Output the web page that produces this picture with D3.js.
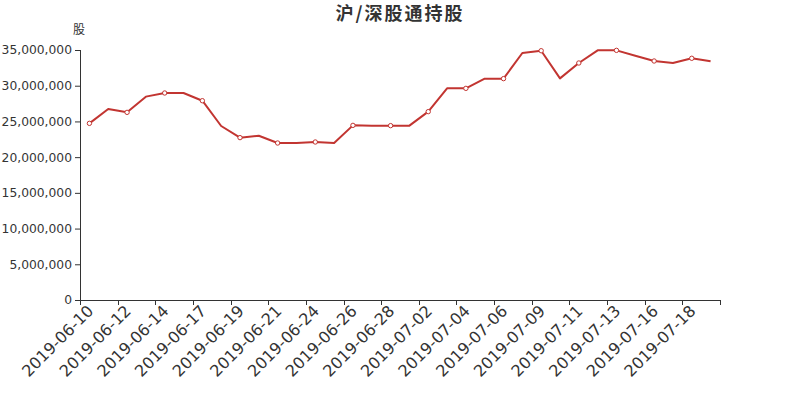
<!DOCTYPE html>
<html><head><meta charset="utf-8">
<script src="https://cdn.jsdelivr.net/npm/d3@7"></script>
<style>body{margin:0;background:#fff;} text{font-family:"DejaVu Sans",sans-serif;}</style>
</head><body><svg id="c" width="800" height="400"></svg>
<script>
const title = "沪/深股通持股";
const yName = "股";
const dates = ["2019-06-10","2019-06-11","2019-06-12","2019-06-13","2019-06-14","2019-06-15","2019-06-17","2019-06-18","2019-06-19","2019-06-20","2019-06-21","2019-06-22","2019-06-24","2019-06-25","2019-06-26","2019-06-27","2019-06-28","2019-07-01","2019-07-02","2019-07-03","2019-07-04","2019-07-05","2019-07-06","2019-07-08","2019-07-09","2019-07-10","2019-07-11","2019-07-12","2019-07-13","2019-07-15","2019-07-16","2019-07-17","2019-07-18","2019-07-19"];
const values = [24730000,26740000,26270000,28470000,28980000,28980000,27900000,24360000,22730000,23000000,21980000,21980000,22120000,21980000,24450000,24410000,24410000,24410000,26370000,29630000,29630000,30990000,30990000,34580000,34900000,31030000,33180000,34950000,34950000,34200000,33460000,33180000,33840000,33410000];
const yTicks = [0,5000000,10000000,15000000,20000000,25000000,30000000,35000000];

const svg = d3.select("#c");
const L=80,R=720,T=50,B=300;
const x = d3.scaleBand().domain(dates).range([L,R]).padding(0);
const y = d3.scaleLinear().domain([0,35000000]).range([B,T]);
const bw = x.bandwidth();
const cx = d => x(d)+bw/2;
const axisColor="#333";

svg.append("text").attr("x",400).attr("y",20).attr("text-anchor","middle")
  .attr("font-size",18).attr("font-weight","bold").attr("fill","#333")
  .style("font-family","'Noto Sans CJK SC',sans-serif").style("letter-spacing","2px").text(title);
svg.append("text").attr("x",79).attr("y",34).attr("text-anchor","middle")
  .attr("font-size",12).attr("fill","#333").style("font-family","'Noto Sans CJK SC',sans-serif").text(yName);

// y axis
const yAxis = d3.axisLeft(y).tickValues(yTicks).tickSize(5).tickPadding(3).tickFormat(d3.format(","));
const gy = svg.append("g").attr("transform",`translate(${L},0)`).call(yAxis);
gy.select(".domain").attr("stroke",axisColor).attr("d",`M0.5,${T}V${B}`);
gy.selectAll(".tick line").attr("stroke",axisColor);
gy.selectAll(".tick text").attr("fill","#333").attr("font-size",12.3).style("font-family","'DejaVu Sans'");

// x axis
const gx = svg.append("g").attr("transform",`translate(0,${B})`);
gx.append("path").attr("d",`M${L},0.5H${R}`).attr("stroke",axisColor).attr("fill","none");
const tickIdx = d3.range(0,dates.length+1,2);
gx.selectAll("line.t").data(tickIdx).join("line").attr("class","t")
  .attr("x1",i=>Math.round((i<dates.length?x(dates[i]):R))+0.5).attr("x2",i=>Math.round((i<dates.length?x(dates[i]):R))+0.5)
  .attr("y1",0).attr("y2",5).attr("stroke",axisColor);
const labIdx = d3.range(0,dates.length,2);
gx.selectAll("text.l").data(labIdx).join("text").attr("class","l")
  .attr("transform",i=>`translate(${cx(dates[i])+1},8) rotate(-45)`)
  .attr("text-anchor","end").attr("dy","0.35em").attr("font-size",16).attr("fill","#333")
  .text(i=>dates[i]);

// line
const data = dates.map((d,i)=>({d,v:values[i]}));
svg.append("path").datum(data).attr("fill","none").attr("stroke","#c23531").attr("stroke-width",2)
  .attr("stroke-linejoin","round")
  .attr("d",d3.line().x(p=>cx(p.d)).y(p=>y(p.v)));
svg.selectAll("circle.m").data(data.filter((p,i)=>i%2===0)).join("circle").attr("class","m")
  .attr("cx",p=>cx(p.d)).attr("cy",p=>y(p.v)).attr("r",2.2)
  .attr("fill","#fff").attr("stroke","#c23531").attr("stroke-width",1);
</script></body></html>
